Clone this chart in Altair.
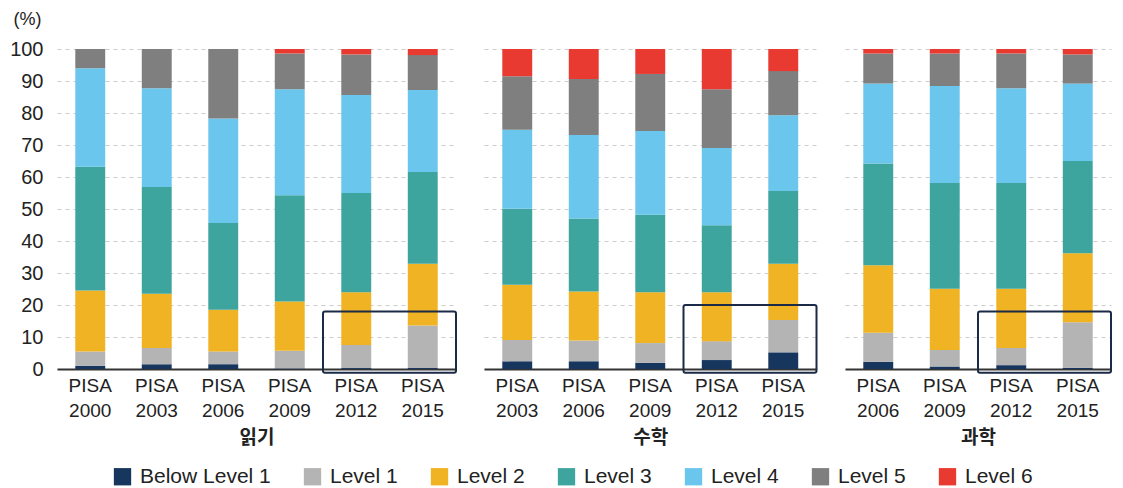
import altair as alt
import pandas as pd

levels = ["Below Level 1", "Level 1", "Level 2", "Level 3", "Level 4", "Level 5", "Level 6"]
level_colors = ["#17365d", "#b4b4b4", "#f0b323", "#3ea59e", "#6ac6ec", "#7f7f7f", "#e83a30"]

subjects = ["읽기", "수학", "과학"]

read_cycles = ["PISA 2000", "PISA 2003", "PISA 2006", "PISA 2009", "PISA 2012", "PISA 2015"]
read_below1 = [1.0, 1.5, 1.5, 0.2, 0.3, 0.3]
read_l1 = [4.5, 5.1, 4.0, 5.5, 7.2, 13.3]
read_l2 = [19.0, 16.9, 13.0, 15.4, 16.5, 19.3]
read_l3 = [38.7, 33.4, 27.1, 33.2, 31.0, 28.7]
read_l4 = [30.8, 30.8, 32.7, 33.1, 30.6, 25.6]
read_l5 = [6.0, 12.3, 21.7, 11.2, 12.7, 10.9]
read_l6 = [0.0, 0.0, 0.0, 1.4, 1.7, 1.9]

math_cycles = ["PISA 2003", "PISA 2006", "PISA 2009", "PISA 2012", "PISA 2015"]
math_below1 = [2.4, 2.4, 1.9, 2.8, 5.2]
math_l1 = [6.7, 6.5, 6.2, 5.9, 10.1]
math_l2 = [17.2, 15.3, 15.9, 15.3, 17.6]
math_l3 = [23.8, 22.8, 24.2, 20.9, 22.7]
math_l4 = [24.7, 26.1, 26.2, 24.2, 23.7]
math_l5 = [16.7, 17.5, 17.8, 18.3, 13.8]
math_l6 = [8.5, 9.4, 7.8, 12.6, 6.9]

sci_cycles = ["PISA 2006", "PISA 2009", "PISA 2012", "PISA 2015"]
sci_below1 = [2.3, 0.8, 1.2, 0.4]
sci_l1 = [9.0, 5.1, 5.4, 14.2]
sci_l2 = [21.1, 19.2, 18.5, 21.6]
sci_l3 = [31.8, 33.0, 33.0, 28.8]
sci_l4 = [25.0, 30.3, 29.6, 24.2]
sci_l5 = [9.4, 10.2, 10.9, 9.1]
sci_l6 = [1.4, 1.4, 1.4, 1.7]

# highlight boxes: around the last two cycles of each subject
box_top = [18.0, 20.0, 18.0]
box_bottom = [-1.2, -1.2, -1.2]

subject_data = [
    (read_cycles, [read_below1, read_l1, read_l2, read_l3, read_l4, read_l5, read_l6]),
    (math_cycles, [math_below1, math_l1, math_l2, math_l3, math_l4, math_l5, math_l6]),
    (sci_cycles, [sci_below1, sci_l1, sci_l2, sci_l3, sci_l4, sci_l5, sci_l6]),
]

STEP = 66.5
FONT = "Liberation Sans"
KFONT = "Noto Sans CJK KR"
TXT = "#222222"

panels = []
for i, (subject, (cycles, series)) in enumerate(zip(subjects, subject_data)):
    rows = []
    for li, (lev, vals) in enumerate(zip(levels, series)):
        for c, v in zip(cycles, vals):
            rows.append({"cycle": c, "level": lev, "order": li, "value": v})
    df = pd.DataFrame(rows)
    n = len(cycles)

    if i == 0:
        yaxis = alt.Axis(
            values=list(range(0, 101, 10)), title="(%)", titleAngle=0, titleAlign="center",
            titleBaseline="middle", titleX=-30, titleY=-30, titleFontSize=18,
            titleFontWeight="normal", titleColor=TXT, titleFont=FONT,
            labelFontSize=20, labelColor=TXT, labelFont=FONT, labelPadding=14,
            labelOverlap=False, ticks=False, domain=False, grid=True,
            gridDash=[4, 4], gridColor="#cccccc",
        )
    else:
        yaxis = alt.Axis(
            values=list(range(0, 101, 10)), title=None, labels=False, ticks=False,
            domain=False, grid=True, gridDash=[4, 4], gridColor="#cccccc",
        )

    legend = None
    if i == 0:
        legend = alt.Legend(
            title=None, orient="none", legendX=55, legendY=417, direction="horizontal",
            symbolType="square", symbolSize=300, symbolStrokeWidth=0, labelFontSize=21,
            labelFont=FONT, labelColor=TXT, columnPadding=31, labelOffset=7, padding=0,
        )

    bars = alt.Chart(df).mark_bar().encode(
        x=alt.X(
            "cycle:N", sort=cycles,
            scale=alt.Scale(paddingInner=0.55, paddingOuter=0.275),
            axis=alt.Axis(
                title=subject, titleFont=KFONT, titleFontSize=19, titleFontWeight="bold",
                titleColor=TXT, titlePadding=8,
                labelExpr="split(datum.label, ' ')", labelAngle=0, labelFontSize=19,
                labelFont=FONT, labelColor=TXT, labelLineHeight=25, labelPadding=7,
                ticks=False, domainColor="#333333", domainWidth=2,
            ),
        ),
        y=alt.Y("value:Q", stack="zero", scale=alt.Scale(domain=[0, 100], nice=False), axis=yaxis),
        color=alt.Color(
            "level:N",
            scale=alt.Scale(domain=levels, range=level_colors),
            legend=legend,
        ),
        order=alt.Order("order:Q", sort="ascending"),
    )

    box_df = pd.DataFrame([{
        "x0": n - 2, "x1": n, "y0": box_bottom[i], "y1": box_top[i],
    }])
    box = alt.Chart(box_df).mark_rect(
        fillOpacity=0, stroke="#1b2a47", strokeWidth=2, cornerRadius=2, clip=False
    ).encode(
        x=alt.X("x0:Q", scale=alt.Scale(domain=[0, n], nice=False, zero=False), axis=None),
        x2="x1:Q",
        y=alt.Y("y0:Q", scale=alt.Scale(domain=[0, 100], nice=False), axis=yaxis),
        y2="y1:Q",
    )

    layer = alt.layer(bars, box).resolve_scale(x="independent").properties(
        width=n * STEP, height=320
    )
    panels.append(layer)

chart = alt.hconcat(*panels, spacing=27).properties(
    padding={"left": 1, "top": 2, "right": 2, "bottom": 0}
).configure_view(stroke=None)

chart.save("out.html", embed_options={"renderer": "svg", "actions": False})
